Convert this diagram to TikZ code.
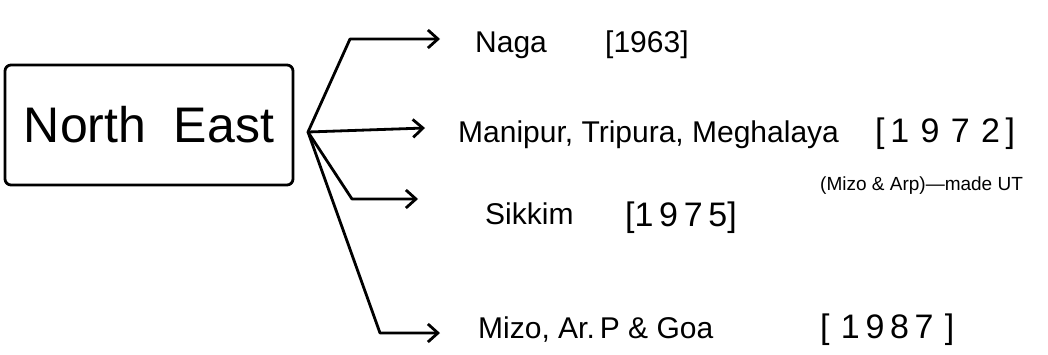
\documentclass[tikz,border=0pt]{standalone}
\usepackage{fontspec}
\setmainfont{Liberation Sans}
\usetikzlibrary{arrows.meta}
\begin{document}
\begin{tikzpicture}[x=1pt,y=-1pt,
  pen/.style={line width=2.8pt,line cap=round,line join=round},
  arr/.style={pen,-{Straight Barb[length=10pt,width=18pt,line width=2.8pt]}},
  lab/.style={anchor=base west,inner sep=0pt,font=\fontsize{30}{30}\selectfont},
  yr/.style={anchor=base west,inner sep=0pt,font=\fontsize{34}{34}\selectfont},
  note/.style={anchor=base west,inner sep=0pt,font=\fontsize{19}{19}\selectfont}]
\useasboundingbox (0,0) rectangle (1048,354);
\node[pen,draw,rounded corners=6pt,minimum width=288pt,minimum height=120pt,
  font=\fontsize{50}{50}\selectfont] (ne) at (149,125) {North\ \ East};
\coordinate (hub) at (308,132);
\node[lab] (naga) at (475,52) {Naga};
\node[lab] (y63) at (605,52) {[1963]};
\node[lab] (mtm) at (458,142) {Manipur, Tripura, Meghalaya};
\node[yr] (y72) at (875,142) {[\,1\,\,9\,\,7\,\,2\,]};
\node[note] (ut) at (820,190) {(Mizo \& Arp)—made UT};
\node[lab] (sik) at (485,224) {Sikkim};
\node[yr] (y75) at (625,226) {[1\,9\,7\,5]};
\node[lab] (mizo) at (478,338) {Mizo, Ar.\,P \& Goa};
\node[yr] (y87) at (820,338) {[\,\,1\,9\,8\,7\,\,]};
\coordinate (a1) at (350,39);
\coordinate (e1) at (440,39);
\coordinate (e2) at (425,128);
\coordinate (a3) at (352,199);
\coordinate (e3) at (418,199);
\coordinate (a4) at (380,333);
\coordinate (e4) at (440,333);
\draw[arr] (hub) -- (a1) -- (e1);
\draw[arr] (hub) -- (e2);
\draw[arr] (hub) -- (a3) -- (e3);
\draw[arr] (hub) -- (a4) -- (e4);
\end{tikzpicture}
\end{document}
